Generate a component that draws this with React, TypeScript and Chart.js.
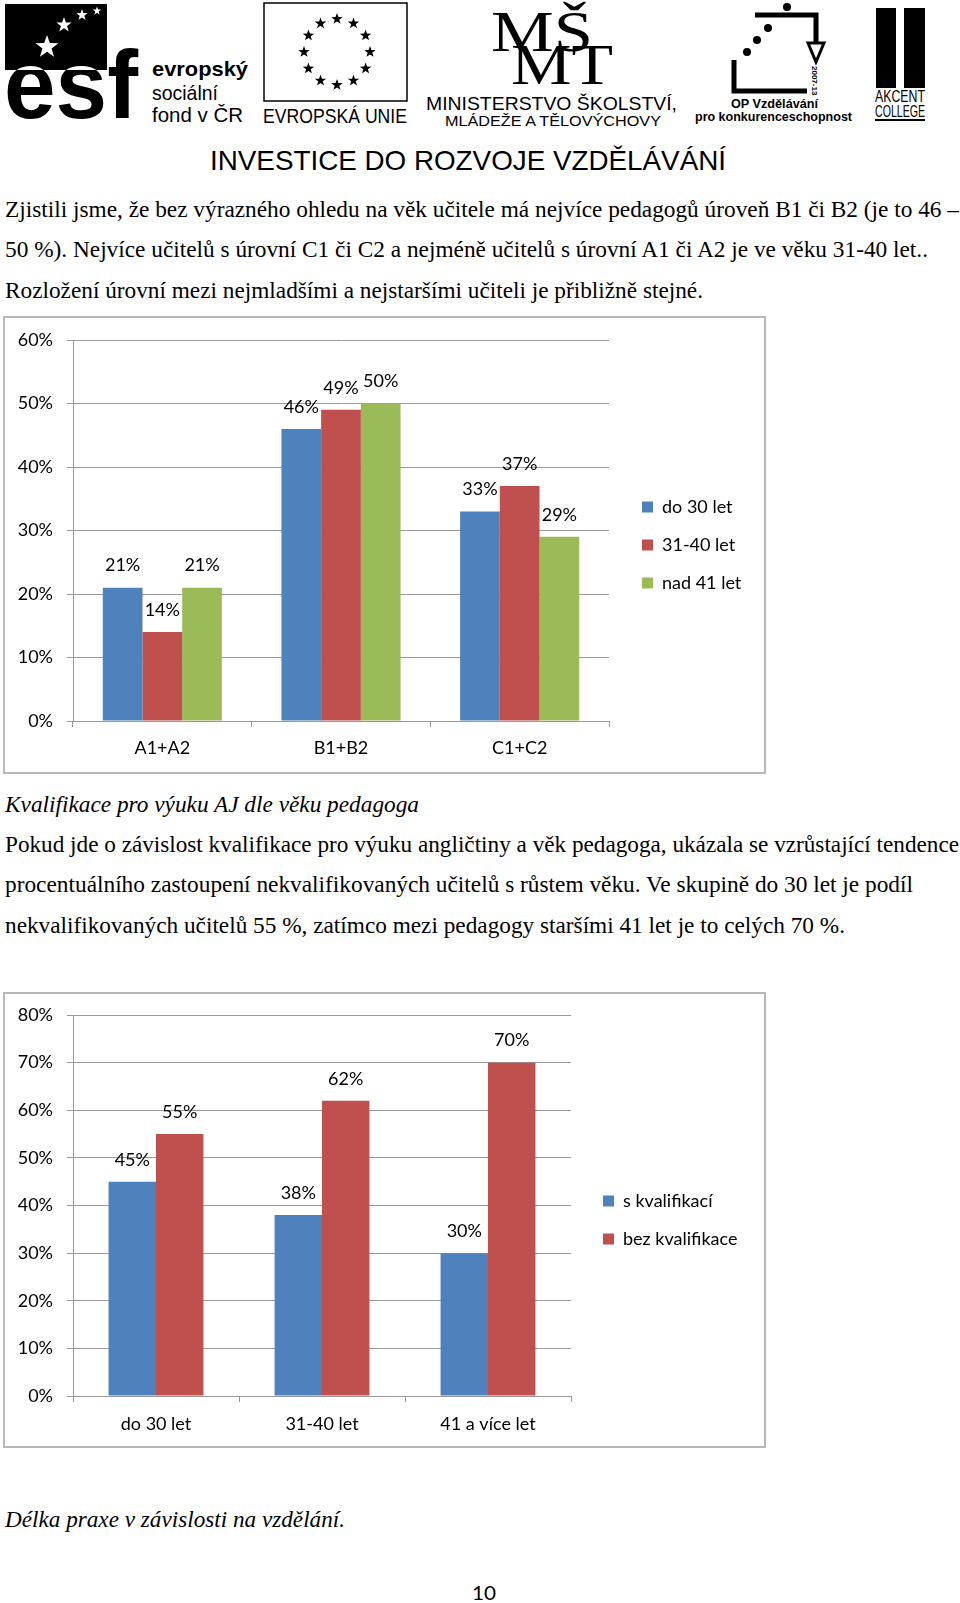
import React, { useEffect, useRef } from "react";
import { Chart, registerables } from "chart.js";

Chart.register(...registerables);

// ---------- Chart 1: language level by teacher age ----------
const levelCategories = ["A1+A2", "B1+B2", "C1+C2"];
const levelSeriesNames = ["do 30 let", "31-40 let", "nad 41 let"];
const levelUnder30 = [21, 46, 33];
const level31to40 = [14, 49, 37];
const levelOver41 = [21, 50, 29];
const levelAxisMax = 60;

// ---------- Chart 2: qualification by teacher age ----------
const qualCategories = ["do 30 let", "31-40 let", "41 a více let"];
const qualSeriesNames = ["s kvalifikací", "bez kvalifikace"];
const qualWith = [45, 38, 30];
const qualWithout = [55, 62, 70];
const qualAxisMax = 80;

const axisStep = 10;

const BLUE = "#4F81BD";
const RED = "#C0504D";
const GREEN = "#9BBB59";
const GRID = "#999999";
const FONT = "Lato, 'Open Sans', sans-serif";
const FSIZE = 18;

type DS = { label: string; data: number[]; color: string };
type BarProps = {
  left: number;
  top: number;
  width: number;
  height: number;
  categories: string[];
  datasets: DS[];
  max: number;
  areaLeft: number;
  areaTop: number;
  areaBottom: number;
  areaRight: number;
  legendLeft: number;
  catPct: number;
  xPad: number;
};

function BarChart(p: BarProps) {
  const ref = useRef<HTMLCanvasElement>(null);
  useEffect(() => {
    const canvas = ref.current;
    if (!canvas) return;
    const m = document.createElement("canvas").getContext("2d")!;
    m.font = `${FSIZE}px ${FONT}`;
    const maxTW = Math.max(...p.datasets.map((d) => m.measureText(d.label).width));
    const labelsPadding = 20;
    const boxW = 11;
    const legendW = labelsPadding + boxW + FSIZE / 2 + maxTW + 10;
    const padRight = Math.max(0, p.width - p.legendLeft - legendW);

    const valueLabels = {
      id: "valueLabels",
      afterDatasetsDraw(chart: any) {
        const ctx = chart.ctx;
        ctx.save();
        ctx.font = `${FSIZE}px ${FONT}`;
        ctx.fillStyle = "#000";
        ctx.textAlign = "center";
        ctx.textBaseline = "middle";
        chart.data.datasets.forEach((ds: any, i: number) => {
          const meta = chart.getDatasetMeta(i);
          meta.data.forEach((el: any, j: number) => {
            ctx.fillText(`${ds.data[j]}%`, el.x, el.y - 22);
          });
        });
        ctx.restore();
      },
    };

    const tickFont = { family: FONT, size: FSIZE };
    const chart = new Chart(canvas, {
      type: "bar",
      data: {
        labels: p.categories,
        datasets: p.datasets.map((d) => ({
          label: d.label,
          data: d.data,
          backgroundColor: d.color,
          borderWidth: 0,
          categoryPercentage: p.catPct,
          barPercentage: 1,
        })),
      },
      options: {
        responsive: false,
        animation: false,
        devicePixelRatio: 1,
        layout: { padding: { left: 0, top: 0, bottom: 0, right: padRight } },
        plugins: {
          legend: {
            position: "right",
            align: "center",
            maxWidth: 400,
            labels: {
              boxWidth: boxW,
              boxHeight: boxW,
              padding: labelsPadding,
              color: "#000",
              font: tickFont,
            },
          },
          tooltip: { enabled: false },
        },
        scales: {
          x: {
            grid: {
              drawOnChartArea: false,
              drawTicks: true,
              tickLength: 6,
              color: GRID,
              offset: true,
            },
            border: { color: GRID },
            ticks: { color: "#000", font: tickFont, padding: p.xPad },
            afterFit: (s: any) => {
              s.height = p.height - p.areaBottom;
            },
          },
          y: {
            min: 0,
            max: p.max,
            ticks: {
              stepSize: axisStep,
              callback: (v: any) => `${v}%`,
              padding: 14,
              color: "#000",
              font: tickFont,
            },
            grid: { color: GRID, tickLength: 6 },
            border: { color: GRID },
            afterFit: (s: any) => {
              s.width = p.areaLeft;
              s.paddingTop = p.areaTop;
            },
          },
          gap: {
            type: "linear",
            position: "right",
            display: true,
            grid: { display: false },
            border: { display: false },
            ticks: { display: false },
            afterFit: (s: any) => {
              s.width = p.legendLeft - p.areaRight;
            },
          },
        },
      } as any,
      plugins: [valueLabels],
    });
    return () => chart.destroy();
  }, []);
  return (
    <canvas
      ref={ref}
      width={p.width}
      height={p.height}
      style={{
        position: "absolute",
        left: p.left,
        top: p.top,
        width: p.width,
        height: p.height,
      }}
    />
  );
}

function starPoints(cx: number, cy: number, R: number): string {
  const r = R * 0.4;
  const pts: string[] = [];
  for (let i = 0; i < 10; i++) {
    const a = -Math.PI / 2 + (i * Math.PI) / 5;
    const rr = i % 2 === 0 ? R : r;
    pts.push(`${(cx + rr * Math.cos(a)).toFixed(2)},${(cy + rr * Math.sin(a)).toFixed(2)}`);
  }
  return pts.join(" ");
}

const SERIF = "'Liberation Serif', 'Times New Roman', serif";
const SANS = "'Liberation Sans', Arial, sans-serif";

type TL = { t: string; x: number; y: number; w: number; s: number; f: string; b?: boolean; i?: boolean };

const headerTexts: TL[] = [
  { t: "evropský", x: 152, y: 76, w: 96, s: 21, f: SANS, b: true },
  { t: "sociální", x: 152, y: 100, w: 66, s: 21, f: SANS },
  { t: "fond v ČR", x: 152, y: 122, w: 91, s: 21, f: SANS },
  { t: "EVROPSKÁ UNIE", x: 263, y: 123, w: 144, s: 21, f: SANS },
  { t: "MINISTERSTVO ŠKOLSTVÍ,", x: 426, y: 110, w: 251, s: 18, f: SANS },
  { t: "MLÁDEŽE A TĚLOVÝCHOVY", x: 445, y: 126, w: 216, s: 15, f: SANS },
  { t: "OP Vzdělávání", x: 731, y: 108, w: 87, s: 13, f: SANS, b: true },
  { t: "pro konkurenceschopnost", x: 695, y: 121, w: 157, s: 13, f: SANS, b: true },
  { t: "AKCENT", x: 875, y: 102, w: 50, s: 17, f: SANS },
  { t: "COLLEGE", x: 875, y: 117, w: 50, s: 17, f: SANS },
  { t: "INVESTICE DO ROZVOJE VZDĚLÁVÁNÍ", x: 210, y: 170, w: 516, s: 28, f: SANS },
];

const bodyTexts: TL[] = [
  { t: "Zjistili jsme, že bez výrazného ohledu na věk učitele má nejvíce pedagogů úroveň B1 či B2 (je to 46 –", x: 5, y: 217, w: 954, s: 23, f: SERIF },
  { t: "50 %). Nejvíce učitelů s úrovní C1 či C2 a nejméně učitelů s úrovní A1 či A2 je ve věku 31-40 let..", x: 5, y: 257, w: 923, s: 23, f: SERIF },
  { t: "Rozložení úrovní mezi nejmladšími a nejstaršími učiteli je přibližně stejné.", x: 5, y: 298, w: 698, s: 23, f: SERIF },
  { t: "Kvalifikace pro výuku AJ dle věku pedagoga", x: 5, y: 812, w: 414, s: 23, f: SERIF, i: true },
  { t: "Pokud jde o závislost kvalifikace pro výuku angličtiny a věk pedagoga, ukázala se vzrůstající tendence", x: 5, y: 852, w: 954, s: 23, f: SERIF },
  { t: "procentuálního zastoupení nekvalifikovaných učitelů s růstem věku. Ve skupině do 30 let je podíl", x: 5, y: 892, w: 908, s: 23, f: SERIF },
  { t: "nekvalifikovaných učitelů 55 %, zatímco mezi pedagogy staršími 41 let je to celých 70 %.", x: 5, y: 933, w: 840, s: 23, f: SERIF },
  { t: "Délka praxe v závislosti na vzdělání.", x: 5, y: 1527, w: 340, s: 23, f: SERIF, i: true },
  { t: "10", x: 472, y: 1600, w: 24, s: 20, f: FONT },
];

function SvgText({ d }: { d: TL }) {
  return (
    <text
      x={d.x}
      y={d.y}
      textLength={d.w}
      lengthAdjust="spacingAndGlyphs"
      fontFamily={d.f}
      fontSize={d.s}
      fontWeight={d.b ? "bold" : "normal"}
      fontStyle={d.i ? "italic" : "normal"}
      fill="#000"
    >
      {d.t}
    </text>
  );
}

function PageArt() {
  const euStars: string[] = [];
  for (let i = 0; i < 12; i++) {
    const a = (i * Math.PI) / 6;
    euStars.push(starPoints(337 + 33 * Math.sin(a), 52 - 33 * Math.cos(a), 6));
  }
  return (
    <svg
      width={960}
      height={1603}
      style={{ position: "absolute", left: 0, top: 0 }}
    >
      <defs>
        <clipPath id="esfClip">
          <rect x={5} y={4} width={102} height={66} />
        </clipPath>
      </defs>
      {/* ESF logo */}
      <rect x={5} y={4} width={102} height={66} fill="#000" />
      <text x={4} y={118} textLength={134} lengthAdjust="spacingAndGlyphs" fontFamily={SANS} fontWeight="bold" fontSize={96} fill="#000">esf</text>
      <g clipPath="url(#esfClip)">
        <text x={4} y={118} textLength={134} lengthAdjust="spacingAndGlyphs" fontFamily={SANS} fontWeight="bold" fontSize={96} fill="#fff">esf</text>
      </g>
      <polygon points={starPoints(47, 47, 12)} fill="#fff" />
      <polygon points={starPoints(64, 25, 8)} fill="#fff" />
      <polygon points={starPoints(82, 15, 6)} fill="#fff" />
      <polygon points={starPoints(97, 11, 4.5)} fill="#fff" />
      {/* EU flag */}
      <rect x={264} y={3} width={143} height={98} fill="none" stroke="#000" strokeWidth={1.5} />
      {euStars.map((pts, i) => (
        <polygon key={i} points={pts} fill="#000" />
      ))}
      {/* MSMT */}
      <text x={491} y={51} textLength={102} lengthAdjust="spacingAndGlyphs" fontFamily={SERIF} fontSize={58} fill="#000">MŠ</text>
      <text x={511} y={84} textLength={102} lengthAdjust="spacingAndGlyphs" fontFamily={SERIF} fontSize={58} fill="#000">MT</text>
      {/* OP logo */}
      <g stroke="#000" strokeWidth={5} fill="none">
        <polyline points="755,15 816,15 816,43" />
        <polyline points="734,60 734,91 807,91" />
      </g>
      <polygon points="808,43 824,43 816,62" fill="#fff" stroke="#000" strokeWidth={3} />
      <circle cx={787} cy={7} r={4} fill="#000" />
      <circle cx={768} cy={28} r={4} fill="#000" />
      <circle cx={757} cy={40} r={4} fill="#000" />
      <circle cx={747} cy={52} r={4} fill="#000" />
      <text x={812} y={66} fontFamily={SANS} fontSize={8} fontWeight="bold" fill="#000" transform="rotate(90 812 66)">2007-13</text>
      {/* AKCENT logo */}
      <rect x={876} y={8} width={20} height={80} fill="#000" />
      <rect x={904} y={8} width={21} height={80} fill="#000" />
      <rect x={875} y={119} width={50} height={2} fill="#000" />
      {headerTexts.map((d, i) => (
        <SvgText key={`h${i}`} d={d} />
      ))}
      {bodyTexts.map((d, i) => (
        <SvgText key={`b${i}`} d={d} />
      ))}
    </svg>
  );
}

const frameStyle = (left: number, top: number, w: number, h: number): React.CSSProperties => ({
  position: "absolute",
  left,
  top,
  width: w,
  height: h,
  border: "2px solid #b8b8b8",
  boxSizing: "border-box",
  background: "#fff",
});

export default function App() {
  const levelDatasets: DS[] = [
    { label: levelSeriesNames[0], data: levelUnder30, color: BLUE },
    { label: levelSeriesNames[1], data: level31to40, color: RED },
    { label: levelSeriesNames[2], data: levelOver41, color: GREEN },
  ];
  const qualDatasets: DS[] = [
    { label: qualSeriesNames[0], data: qualWith, color: BLUE },
    { label: qualSeriesNames[1], data: qualWithout, color: RED },
  ];
  return (
    <div
      style={{
        position: "absolute",
        left: 0,
        top: 0,
        width: 960,
        height: 1603,
        background: "#fff",
        overflow: "hidden",
      }}
    >
      <PageArt />
      <div style={frameStyle(3, 316, 763, 458)} />
      <BarChart
        left={5}
        top={318}
        width={759}
        height={454}
        categories={levelCategories}
        datasets={levelDatasets}
        max={levelAxisMax}
        areaLeft={68}
        areaTop={22}
        areaBottom={403}
        areaRight={604}
        legendLeft={617}
        catPct={3 / 4.5}
        xPad={10}
      />
      <div style={frameStyle(3, 992, 763, 456)} />
      <BarChart
        left={5}
        top={994}
        width={759}
        height={452}
        categories={qualCategories}
        datasets={qualDatasets}
        max={qualAxisMax}
        areaLeft={68}
        areaTop={21}
        areaBottom={402}
        areaRight={566}
        legendLeft={578}
        catPct={2 / 3.5}
        xPad={11}
      />
    </div>
  );
}
